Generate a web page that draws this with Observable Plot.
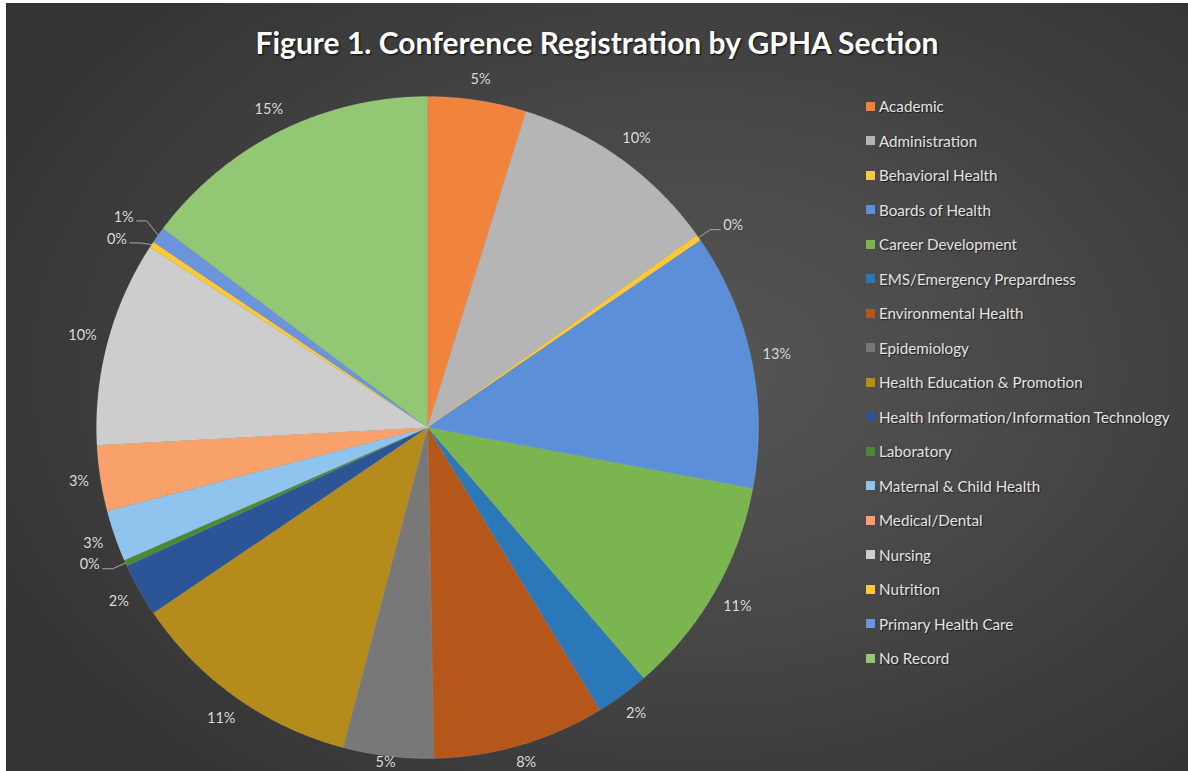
<!DOCTYPE html>
<html><head><meta charset="utf-8">
<script src="https://cdn.jsdelivr.net/npm/d3@7"></script>
<script src="https://cdn.jsdelivr.net/npm/@observablehq/plot@0.6"></script>
<style>
html,body{margin:0;padding:0;background:#fff;}
#wrap{position:relative;width:1188px;height:771px;overflow:hidden;background:#fff;}
#bg{position:absolute;left:6px;top:3px;right:0;bottom:0;
 background:radial-gradient(ellipse 65% 70% at 58% 48%, #565656 0%, #484848 45%, #333333 100%);}
#chart{position:absolute;left:0;top:0;}
#title{position:absolute;left:3px;width:1188px;top:24px;text-align:center;font-family:Lato,"Open Sans",sans-serif;font-weight:700;font-size:30px;color:#fff;text-shadow:1px 1px 2px rgba(0,0,0,.85);}
#legend{position:absolute;left:0;top:0;}
.item{position:absolute;left:866px;display:flex;align-items:center;font-family:Lato,"Open Sans",sans-serif;font-size:15.2px;color:#e4e4e4;white-space:nowrap;text-shadow:1px 1px 1px rgba(0,0,0,.6);}
.sw{width:9px;height:9px;margin-right:4px;}
</style>
</head><body>
<div id="wrap">
 <div id="bg"></div>
 <div id="chart"></div>
 <div id="title">Figure 1. Conference Registration by GPHA Section</div>
 <div id="legend"></div>
</div>
<script>
// ---- data ----
const categories = ["Academic","Administration","Behavioral Health","Boards of Health","Career Development","EMS/Emergency Prepardness","Environmental Health","Epidemiology","Health Education & Promotion","Health Information/Information Technology","Laboratory","Maternal & Child Health","Medical/Dental","Nursing","Nutrition","Primary Health Care","No Record"];
const shares = [4.8,10.3,0.3,12.5,10.7,2.6,8.4,4.4,11.4,2.6,0.3,2.5,3.2,10.0,0.3,0.8,14.7];
const pctLabels = ["5%","10%","0%","13%","11%","2%","8%","5%","11%","2%","0%","3%","3%","10%","0%","1%","15%"];
const colors = ["#f0843c","#b5b5b5","#ffc935","#5b8fd8","#7ab550","#2a78b8","#b5561a","#787878","#b58b1c","#2c5597","#4b8a33","#8fc4ee","#f8a16a","#cdcdcd","#ffc935","#6b94dc","#92c873"];

// ---- layout ----
const W = 1188, H = 771, cx = 427, cy = 427, R = 331;
const bottomLimit = -(762 - cy) / R;

const arcs = d3.pie().sort(null).value(d => d.v)(categories.map((name, i) => ({name, v: shares[i], label: pctLabels[i]})));

const slicePts = [];
for (const a of arcs) {
  const n = Math.max(2, Math.ceil((a.endAngle - a.startAngle) / 0.005));
  slicePts.push({name: a.data.name, x: 0, y: 0});
  for (let k = 0; k <= n; k++) {
    const t = a.startAngle + (a.endAngle - a.startAngle) * k / n;
    slicePts.push({name: a.data.name, x: Math.sin(t), y: Math.cos(t)});
  }
  slicePts.push({name: a.data.name, x: 0, y: 0});
}

const bigLabels = [], smallLabels = [], leaderPts = [];
for (const a of arcs) {
  const t = (a.startAngle + a.endAngle) / 2;
  const s = Math.sin(t), c = Math.cos(t);
  if (a.data.v >= 1) {
    const w = 7.8 * a.data.label.length, h = 14;
    const d = (R + 13 + (w / 2) * Math.abs(s) + (h / 2) * Math.abs(c)) / R;
    bigLabels.push({x: d * s, y: Math.max(d * c, bottomLimit), text: a.data.label});
  } else {
    const d1 = (R + 14) / R;
    smallLabels.push({name: a.data.name, s, x0: s, y0: c, x1: d1 * s, y1: d1 * c, text: a.data.label});
  }
}
// separate small labels on the same side when they are too close vertically
const minGap = 22 / R;
for (const side of [-1, 1]) {
  const group = smallLabels.filter(L => Math.sign(L.s) === side).sort((p, q) => q.y1 - p.y1);
  for (let i = 1; i < group.length; i++) {
    const p = group[i - 1], q = group[i];
    if (p.y1 - q.y1 < minGap) {
      const mid = (p.y1 + q.y1) / 2;
      p.y1 = mid + minGap / 2; q.y1 = mid - minGap / 2;
    }
  }
}
const startLabels = [], endLabels = [];
for (const L of smallLabels) {
  const dir = Math.sign(L.s);
  const x2 = L.x1 + dir * 10 / R;
  leaderPts.push({name: L.name, x: L.x0, y: L.y0});
  leaderPts.push({name: L.name, x: L.x1, y: L.y1});
  leaderPts.push({name: L.name, x: x2, y: L.y1});
  const lab = {x: x2 + dir * 3 / R, y: L.y1 + 4 / R, text: L.text};
  (dir > 0 ? startLabels : endLabels).push(lab);
}

const textStyle = {fill: "#dedede", fontSize: 14.5, fontFamily: "Lato, 'Open Sans', sans-serif", stroke: "rgba(0,0,0,0.25)", strokeWidth: 0.6};

const chart = Plot.plot({
  width: W, height: H,
  marginTop: 0, marginRight: 0, marginBottom: 0, marginLeft: 0,
  x: {domain: [-cx / R, (W - cx) / R], axis: null},
  y: {domain: [-(H - cy) / R, cy / R], axis: null},
  color: {domain: categories, range: colors},
  style: {background: "transparent", overflow: "visible"},
  marks: [
    Plot.line(slicePts, {x: "x", y: "y", z: "name", fill: "name", stroke: "#ffffff", strokeOpacity: 0.18, strokeWidth: 0.6, curve: "linear"}),
    Plot.line(leaderPts, {x: "x", y: "y", z: "name", stroke: "#a8a8a8", strokeWidth: 1}),
    Plot.text(bigLabels, {x: "x", y: "y", text: "text", textAnchor: "middle", ...textStyle}),
    Plot.text(startLabels, {x: "x", y: "y", text: "text", textAnchor: "start", ...textStyle}),
    Plot.text(endLabels, {x: "x", y: "y", text: "text", textAnchor: "end", ...textStyle})
  ]
});
document.getElementById("chart").appendChild(chart);

// legend
const leg = document.getElementById("legend");
categories.forEach((name, i) => {
  const row = document.createElement("div");
  row.className = "item";
  row.style.top = (106 + i * 34.5 - 9) + "px";
  row.style.height = "18px";
  const sw = document.createElement("span");
  sw.className = "sw";
  sw.style.background = colors[i];
  const tx = document.createElement("span");
  tx.textContent = name;
  row.appendChild(sw); row.appendChild(tx);
  leg.appendChild(row);
});
</script>
</body></html>
